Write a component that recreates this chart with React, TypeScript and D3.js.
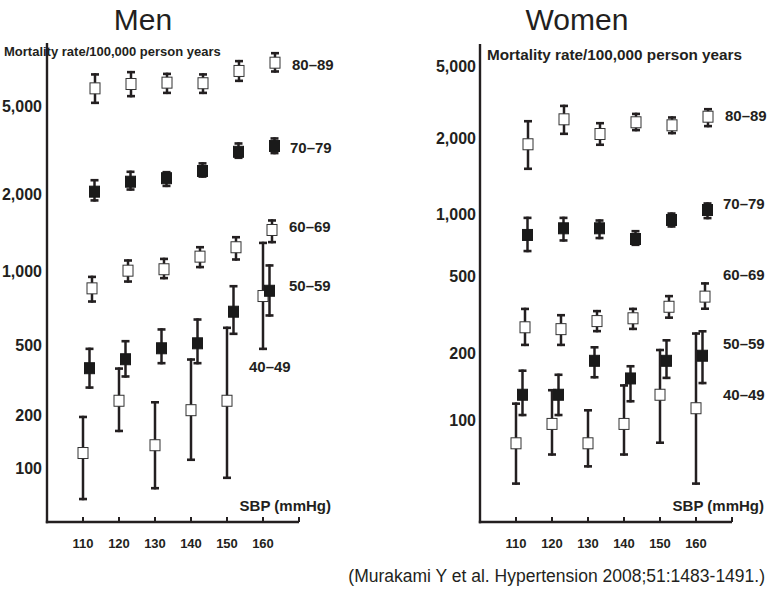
import React from "react";
import * as d3 from "d3";

// ---------- data ----------
const sbp = [110, 120, 130, 140, 150, 160];
const yTickValues = [100, 200, 500, 1000, 2000, 5000];
const ageGroups = ["80–89", "70–79", "60–69", "50–59", "40–49"];
const openMarker = [true, false, true, false, true];

// Men: mean / lower / upper (mortality rate per 100,000 person years)
const men8089 = [6040, 6320, 6410, 6370, 7240, 7890];
const men8089Lo = [5130, 5500, 5690, 5690, 6450, 7110];
const men8089Hi = [7070, 7240, 7110, 7070, 8120, 8820];
const men7079 = [2060, 2285, 2370, 2555, 3120, 3315];
const men7079Lo = [1875, 2080, 2160, 2380, 2895, 3040];
const men7079Hi = [2350, 2565, 2555, 2800, 3445, 3630];
const men6069 = [850, 1003, 1016, 1139, 1240, 1450];
const men6069Lo = [743, 896, 925, 1025, 1098, 1285];
const men6069Hi = [957, 1112, 1128, 1254, 1373, 1598];
const men5059 = [369, 415, 479, 508, 683, 831];
const men5059Lo = [282, 326, 388, 388, 549, 652];
const men5059Hi = [483, 524, 585, 642, 877, 1063];
const men4049 = [122, 241, 135, 213, 241, 791];
const men4049Lo = [66, 160, 76, 110, 87, 468];
const men4049Hi = [198, 373, 240, 420, 594, 1304];

// Women
const women8089 = [1894, 2550, 2113, 2455, 2362, 2637];
const women8089Lo = [1498, 2086, 1865, 2187, 2105, 2302];
const women8089Hi = [2527, 3074, 2464, 2775, 2651, 2947];
const women7079 = [795, 856, 856, 760, 939, 1040];
const women7079Lo = [656, 738, 758, 703, 862, 946];
const women7079Hi = [974, 974, 946, 840, 1018, 1116];
const women6069 = [273, 267, 294, 304, 349, 394];
const women6069Lo = [218, 218, 257, 264, 302, 336];
const women6069Hi = [345, 320, 336, 345, 402, 468];
const women5059 = [130, 130, 185, 154, 185, 195];
const women5059Lo = [104, 104, 154, 120, 153, 145];
const women5059Hi = [169, 162, 218, 177, 237, 264];
const women4049 = [78.5, 96, 78.5, 96, 130, 113];
const women4049Lo = [51, 69, 61, 69, 78, 51];
const women4049Hi = [120, 138, 112, 145, 211, 257];

const menSeries = [
  [men8089, men8089Lo, men8089Hi],
  [men7079, men7079Lo, men7079Hi],
  [men6069, men6069Lo, men6069Hi],
  [men5059, men5059Lo, men5059Hi],
  [men4049, men4049Lo, men4049Hi],
];
const womenSeries = [
  [women8089, women8089Lo, women8089Hi],
  [women7079, women7079Lo, women7079Hi],
  [women6069, women6069Lo, women6069Hi],
  [women5059, women5059Lo, women5059Hi],
  [women4049, women4049Lo, women4049Hi],
];

// ---------- layout ----------
const W = 769;
const H = 589;
const FONT = "'Liberation Sans', Arial, Helvetica, sans-serif";
const INK = "#231f20";
const dodgePx = [12, 11.5, 9, 6.5, 0];

const panels = [
  {
    title: "Men",
    titleX: 143,
    axisX: 47,
    axisTop: 43,
    xEnd: 299,
    tickPx: [468.3, 415, 345, 271, 194.5, 106.5],
    labelEnd: 42,
    mort: { x: 4, y: 56, size: 13 },
    sbpLabel: { x: 331, y: 511 },
    ageLabel: [
      [292, 65],
      [290, 147.3],
      [289, 226.7],
      [289, 286],
      [249, 366.7],
    ],
    series: menSeries,
  },
  {
    title: "Women",
    titleX: 577,
    axisX: 480,
    axisTop: 44,
    xEnd: 732,
    tickPx: [420, 353.3, 276.7, 214.3, 138.3, 66.7],
    labelEnd: 476,
    mort: { x: 487, y: 60, size: 15.3 },
    sbpLabel: { x: 764, y: 511 },
    ageLabel: [
      [725, 116],
      [723, 203.3],
      [723, 275],
      [723, 343.3],
      [723, 395],
    ],
    series: womenSeries,
  },
];

const AXIS_Y = 522;

function Panel({ p }: { p: (typeof panels)[number] }) {
  const x = d3.scaleLinear().domain([100, 170]).range([p.axisX, p.xEnd]);
  const y = d3.scaleLog().domain(yTickValues).range(p.tickPx);
  const fmt = d3.format(",");
  return (
    <g>
      <text
        x={p.titleX}
        y={30}
        textAnchor="middle"
        fontFamily={FONT}
        fontSize={30}
        fill={INK}
      >
        {p.title}
      </text>
      <text
        x={p.mort.x}
        y={p.mort.y}
        fontFamily={FONT}
        fontSize={p.mort.size}
        fontWeight="bold"
        fill={INK}
      >
        Mortality rate/100,000 person years
      </text>
      {/* axes */}
      <line x1={p.axisX} x2={p.axisX} y1={p.axisTop} y2={AXIS_Y + 1.2} stroke={INK} strokeWidth={2.4} />
      <line x1={p.axisX - 1.2} x2={p.xEnd} y1={AXIS_Y} y2={AXIS_Y} stroke={INK} strokeWidth={2.4} />
      {sbp.map((v) => (
        <g key={v}>
          <line x1={x(v)} x2={x(v)} y1={AXIS_Y} y2={AXIS_Y - 5} stroke={INK} strokeWidth={2} />
          <text
            x={x(v)}
            y={547.5}
            textAnchor="middle"
            fontFamily={FONT}
            fontSize={13}
            fontWeight="bold"
            fill={INK}
          >
            {v}
          </text>
        </g>
      ))}
      <line x1={p.xEnd} x2={p.xEnd} y1={AXIS_Y} y2={AXIS_Y - 5} stroke={INK} strokeWidth={2} />
      {yTickValues.map((v) => (
        <text
          key={v}
          x={p.labelEnd}
          y={y(v)}
          dy="0.36em"
          textAnchor="end"
          fontFamily={FONT}
          fontSize={16}
          fontWeight="bold"
          fill={INK}
        >
          {fmt(v)}
        </text>
      ))}
      <text
        x={p.sbpLabel.x}
        y={p.sbpLabel.y}
        textAnchor="end"
        fontFamily={FONT}
        fontSize={15}
        fontWeight="bold"
        fill={INK}
      >
        SBP (mmHg)
      </text>
      {/* series (drawn bottom age group first) */}
      {p.series
        .map((s, gi) => ({ s, gi }))
        .reverse()
        .map(({ s, gi }) => {
          const [mean, lo, hi] = s;
          return (
            <g key={gi}>
              {sbp.map((v, i) => {
                const cx = x(v) + dodgePx[gi];
                const yTop = y(hi[i]);
                const yBot = y(lo[i]);
                const cy = y(mean[i]);
                return (
                  <g key={i}>
                    <line x1={cx} x2={cx} y1={yTop} y2={yBot} stroke={INK} strokeWidth={2.5} />
                    <line x1={cx - 4} x2={cx + 4} y1={yTop + 1.2} y2={yTop + 1.2} stroke={INK} strokeWidth={2.6} />
                    <line x1={cx - 4} x2={cx + 4} y1={yBot - 1.2} y2={yBot - 1.2} stroke={INK} strokeWidth={2.6} />
                    <rect
                      x={cx - 5}
                      y={cy - 5.5}
                      width={10}
                      height={11}
                      fill={openMarker[gi] ? "#ffffff" : "#1a1a1a"}
                      stroke={openMarker[gi] ? "#333333" : "#1a1a1a"}
                      strokeWidth={1}
                    />
                  </g>
                );
              })}
            </g>
          );
        })}
      {ageGroups.map((a, gi) => (
        <text
          key={a}
          x={p.ageLabel[gi][0]}
          y={p.ageLabel[gi][1]}
          dy="0.36em"
          fontFamily={FONT}
          fontSize={15}
          fontWeight="bold"
          fill={INK}
        >
          {a}
        </text>
      ))}
    </g>
  );
}

export default function App() {
  return (
    <svg
      width={W}
      height={H}
      viewBox={`0 0 ${W} ${H}`}
      style={{ position: "absolute", left: 0, top: 0, background: "#ffffff" }}
    >
      <rect width={W} height={H} fill="#ffffff" />
      {panels.map((p) => (
        <Panel key={p.title} p={p} />
      ))}
      <text
        x={765}
        y={582}
        textAnchor="end"
        fontFamily={FONT}
        fontSize={17.5}
        fill={INK}
      >
        (Murakami Y et al. Hypertension 2008;51:1483-1491.)
      </text>
    </svg>
  );
}
